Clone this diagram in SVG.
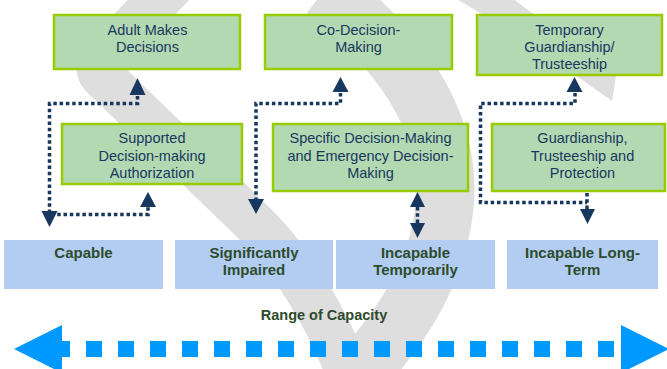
<svg xmlns="http://www.w3.org/2000/svg" width="667" height="369" viewBox="0 0 667 369">
<style>
.bg{fill:none;stroke:#dedede}
.gbox{fill:#b3d9b3;stroke:#99cc00;stroke-width:2.5}
.gtxt{font-family:"Liberation Sans",Arial,sans-serif;font-size:14.5px;fill:#17375e;text-anchor:middle}
.bbox{fill:#b3cdf2}
.btxt{font-family:"Liberation Sans",Arial,sans-serif;font-size:15px;font-weight:bold;fill:#2d4b2d;text-anchor:middle}
.dot{fill:none;stroke:#17375e;stroke-width:3.5;stroke-dasharray:3.5 2.8}
.head{fill:#17375e}
.big{fill:#0099ff}
</style>
<rect width="667" height="369" fill="#ffffff"/>
<g id="background">
<path class="bg" stroke-width="44" stroke-linejoin="round" d="M178,-20 L102,58 Q93,70 106,80 L251,220 C290,257 330,320 352,385"/>
<path class="bg" stroke-width="58" d="M325,-10 C400,50 450,120 445,200 C440,280 390,340 350,385"/>
<path fill="#dedede" d="M455,-2 L512,-2 L616,76 L612,101 L578,77 L520,37 Z"/>
</g>
<g id="connectors">
<path class="dot" d="M137.5,96 V103.5 H49.5 V214.5 H148 V207"/>
<polygon class="head" points="137.5,78 145.5,95 129.5,95"/>
<polygon class="head" points="49.5,227 41.5,211 57.5,211"/>
<polygon class="head" points="148,192 156,207 140,207"/>
<path class="dot" d="M340.5,93 V103.5 H256 V200"/>
<polygon class="head" points="340.5,77 348.5,92 332.5,92"/>
<polygon class="head" points="256,214 248,199 264,199"/>
<path class="dot" d="M417.5,207 V223"/>
<polygon class="head" points="417.5,192 425,207 410,207"/>
<polygon class="head" points="417.5,238 410,223 425,223"/>
<path class="dot" d="M575,93 V103.5 H480.5 V202.5 H587"/>
<path class="dot" d="M587,193 V210"/>
<polygon class="head" points="574.5,77 582.5,92 566.5,92"/>
<polygon class="head" points="587.5,224 580,209 595,209"/>
</g>
<g id="adult-makes-decisions">
<rect class="gbox" x="54" y="15" width="186" height="54"/>
<text class="gtxt" x="147.5" y="34.5">Adult Makes</text>
<text class="gtxt" x="147.5" y="51.5">Decisions</text>
</g>
<g id="supported-decision-making">
<rect class="gbox" x="62" y="124" width="180" height="60"/>
<text class="gtxt" x="152" y="143.3">Supported</text>
<text class="gtxt" x="152" y="160.5">Decision-making</text>
<text class="gtxt" x="152" y="177.5">Authorization</text>
</g>
<g id="co-decision-making">
<rect class="gbox" x="265" y="15" width="187" height="54"/>
<text class="gtxt" x="358.5" y="34.5">Co-Decision-</text>
<text class="gtxt" x="358.5" y="51.5">Making</text>
</g>
<g id="specific-decision-making">
<rect class="gbox" x="273" y="124" width="195" height="67"/>
<text class="gtxt" x="370.5" y="143.3">Specific Decision-Making</text>
<text class="gtxt" x="370.5" y="160.5">and Emergency Decision-</text>
<text class="gtxt" x="370.5" y="177.5">Making</text>
</g>
<g id="temporary-guardianship">
<rect class="gbox" x="477" y="15" width="185" height="60"/>
<text class="gtxt" x="569.5" y="34.5">Temporary</text>
<text class="gtxt" x="569.5" y="51.5">Guardianship/</text>
<text class="gtxt" x="569.5" y="68.5">Trusteeship</text>
</g>
<g id="guardianship">
<rect class="gbox" x="492" y="124" width="173" height="67"/>
<text class="gtxt" x="582.5" y="143.3">Guardianship,</text>
<text class="gtxt" x="582.5" y="160.5">Trusteeship and</text>
<text class="gtxt" x="582.5" y="177.5">Protection</text>
</g>
<g id="capable">
<rect class="bbox" x="4" y="240" width="159" height="49"/>
<text class="btxt" x="83.5" y="258.3">Capable</text>
</g>
<g id="significantly-impaired">
<rect class="bbox" x="175" y="240" width="158" height="49"/>
<text class="btxt" x="254" y="258.3">Significantly</text>
<text class="btxt" x="254" y="275">Impaired</text>
</g>
<g id="incapable-temporarily">
<rect class="bbox" x="336" y="240" width="159" height="49"/>
<text class="btxt" x="415.5" y="258.3">Incapable</text>
<text class="btxt" x="415.5" y="275">Temporarily</text>
</g>
<g id="incapable-long-term">
<rect class="bbox" x="507" y="240" width="151" height="49"/>
<text class="btxt" x="582.5" y="258.3">Incapable Long-</text>
<text class="btxt" x="582.5" y="275">Term</text>
</g>
<g id="range-of-capacity">
<text class="btxt" x="324" y="320" style="font-size:14.5px">Range of Capacity</text>
<path d="M54,349 H621" fill="none" stroke="#0099ff" stroke-width="16" stroke-dasharray="16 16"/>
<polygon class="big" points="14,349 62,325 62,373"/>
<polygon class="big" points="669,349 621,325 621,373"/>
</g>
</svg>
